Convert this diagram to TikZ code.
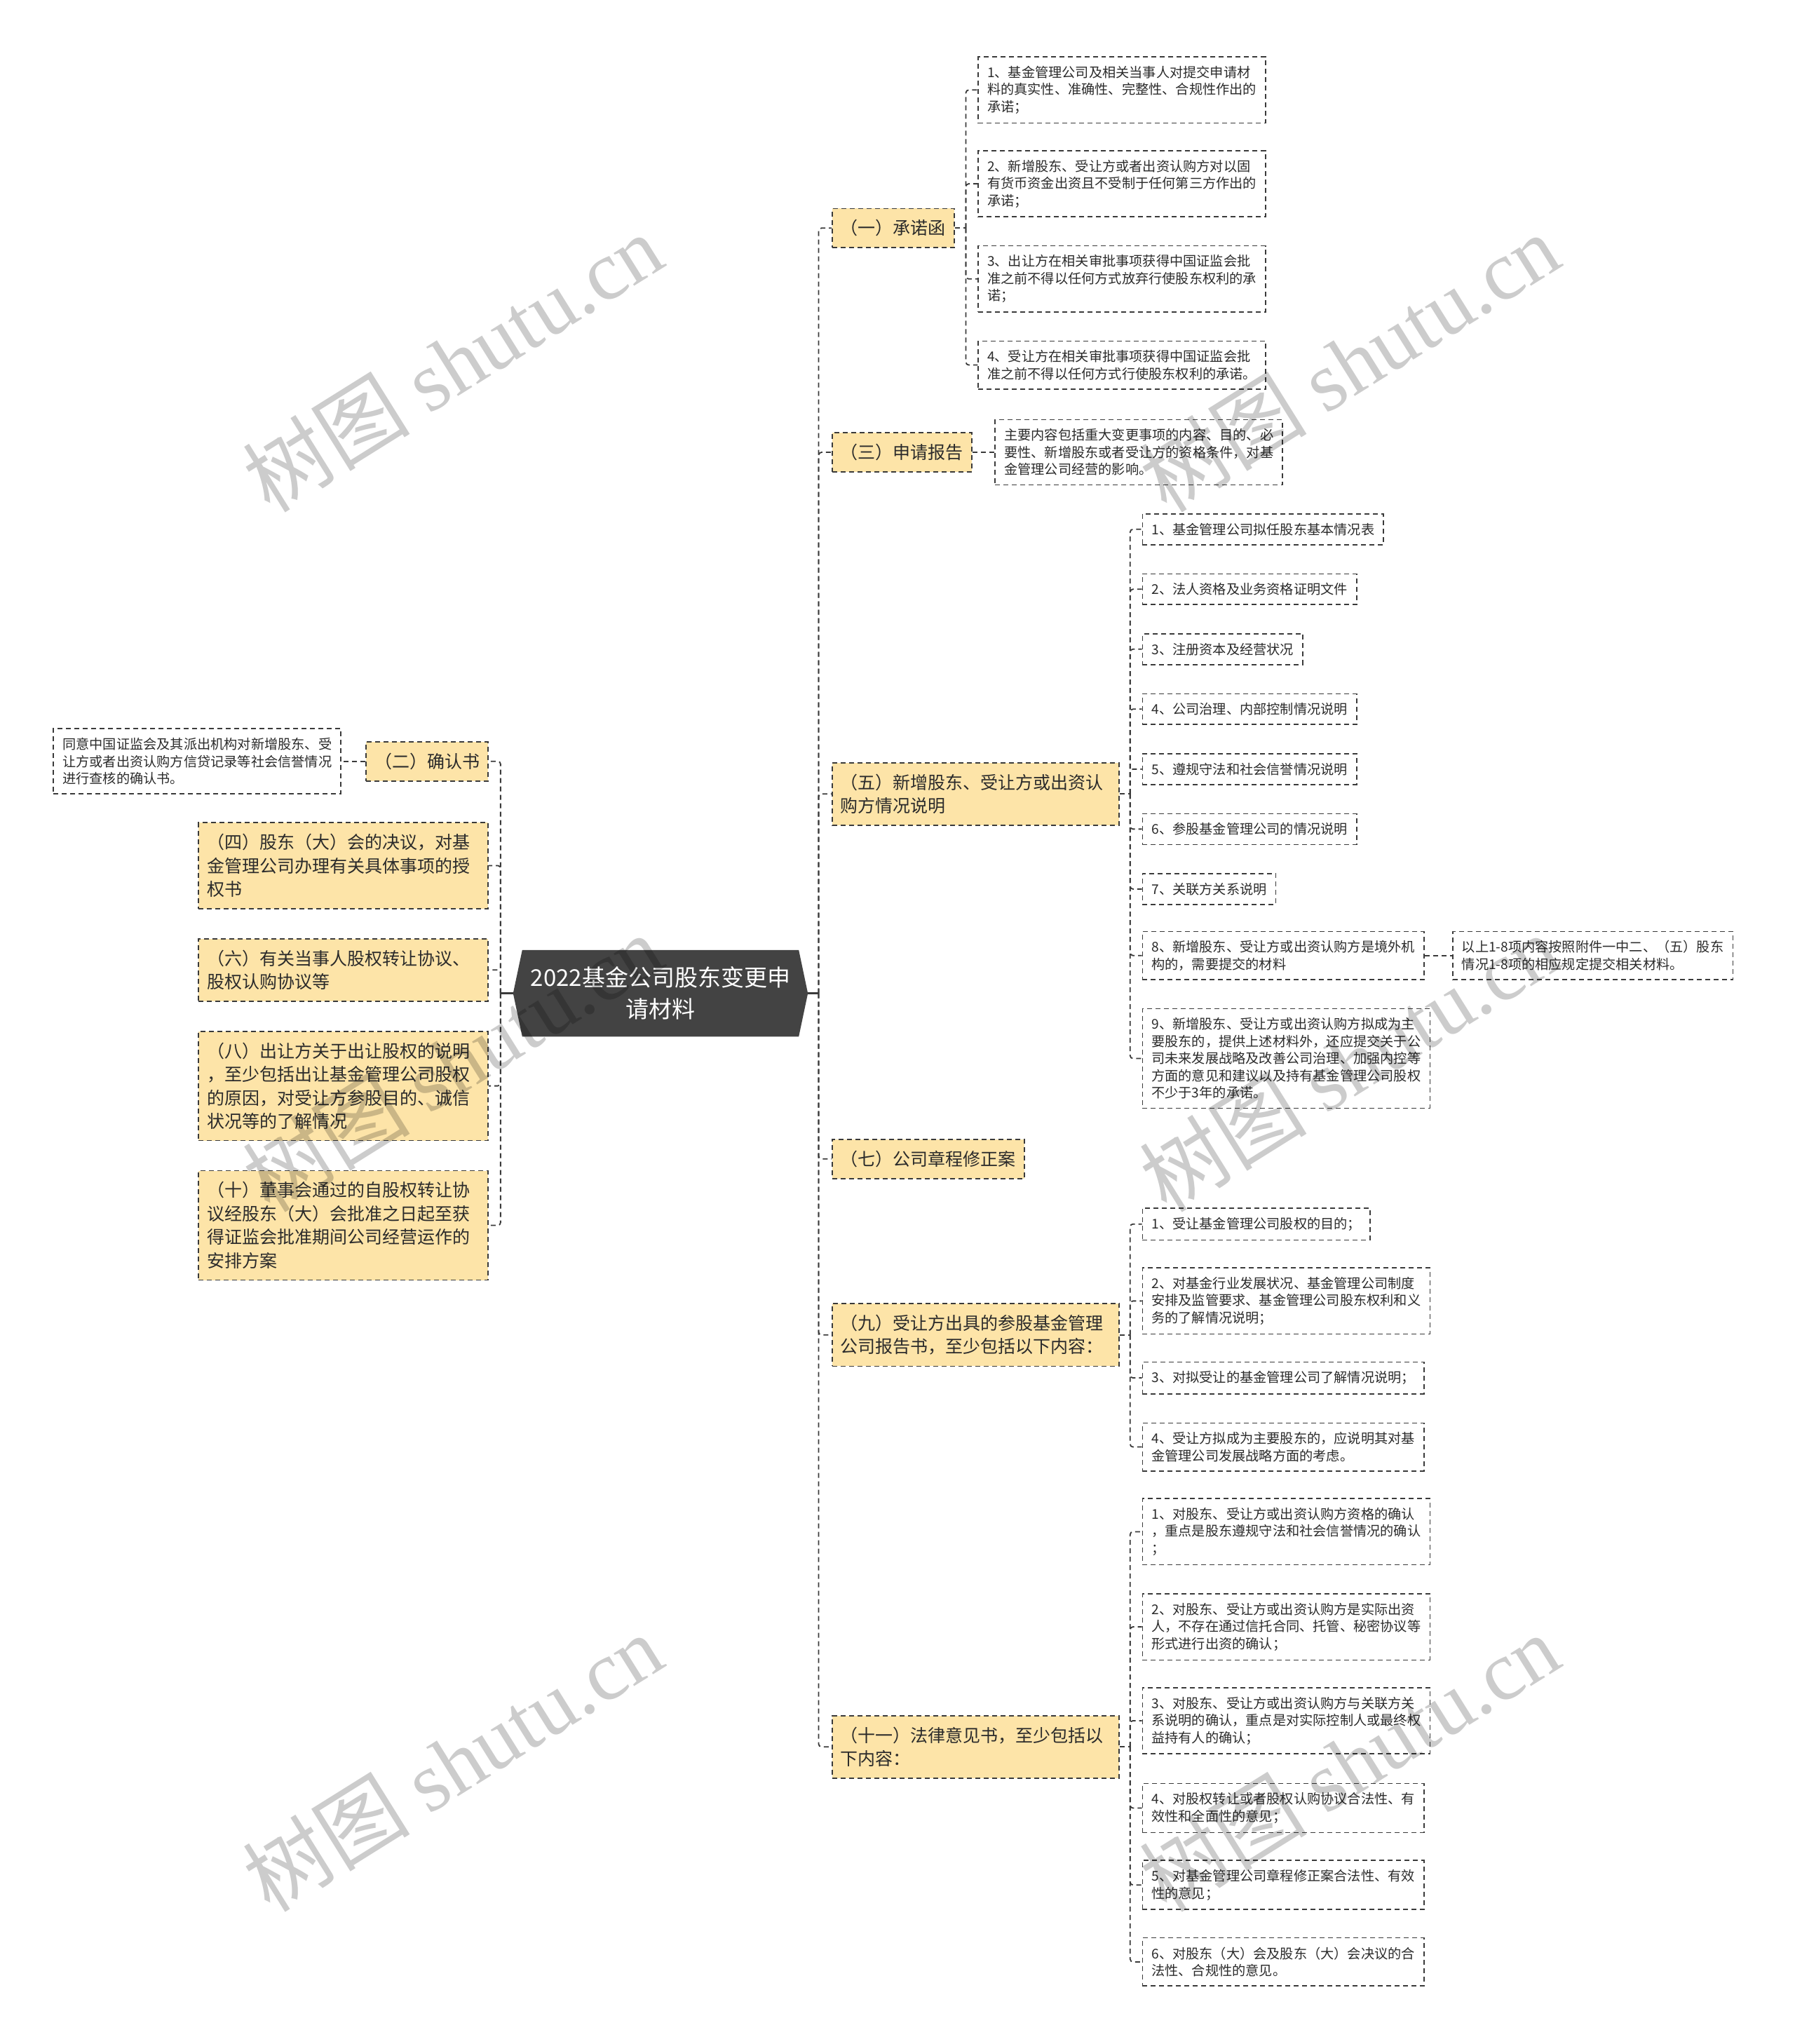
\documentclass[tikz,border=0pt]{standalone}
\usepackage{fontspec}
\setmainfont{Noto Sans CJK SC}
\newfontfamily\wmlatin{Liberation Serif}
\usetikzlibrary{backgrounds}

\definecolor{branchfill}{HTML}{FDE4A8}
\definecolor{linecol}{HTML}{3A3A3A}
\definecolor{centerfill}{HTML}{434343}
\definecolor{txt}{HTML}{2B2B2B}

\tikzset{
  conn/.style={draw=linecol, line width=1.8pt, dash pattern=on 7pt off 5pt, rounded corners=4pt},
  solidconn/.style={draw=linecol, line width=3pt},
  branch/.style={draw=linecol, line width=1.8pt, dash pattern=on 7pt off 5pt, fill=branchfill,
    align=left, font=\fontsize{25}{33.5}\selectfont, text=txt, inner xsep=12pt, inner ysep=16pt},
  widebranch/.style={branch, text width=385pt},
  leftbranch/.style={branch, text width=389pt},
  leaf/.style={draw=linecol, line width=1.6pt, dash pattern=on 7pt off 5pt, fill=white,
    align=left, font=\fontsize{19.2}{24.5}\selectfont, text=txt, inner xsep=13pt, inner ysep=13pt},
  hubtext/.style={align=center, text=white, font=\fontsize{33}{45}\selectfont,
    minimum width=420pt, minimum height=123pt, inner sep=0pt},
  wm/.style={text=black, opacity=0.2, rotate=32, font=\fontsize{120}{120}\selectfont, inner sep=0pt}
}

\begin{document}
\begin{tikzpicture}[x=1.85911pt, y=-1.85911pt]
\useasboundingbox (0,0) rectangle (1377,1568);

% hub
\node[hubtext] (hub) at (506.7,762) {2022基金公司股东变更申\\请材料};
\begin{scope}[on background layer]
  \fill[white] (0,0) rectangle (1377,1568);
  \fill[centerfill] ([xshift=13pt]hub.north west) -- ([xshift=-13pt]hub.north east) -- (hub.east)
    -- ([xshift=-13pt]hub.south east) -- ([xshift=13pt]hub.south west) -- (hub.west) -- cycle;
\end{scope}

% junctions
\coordinate (jR) at (628,762);
\coordinate (jL) at (384,762);
\coordinate (j1) at (741,175);
\coordinate (j5) at (867,609);
\coordinate (j9) at (867,1024);
\coordinate (j11) at (867,1340);

% right branches
\node[branch, anchor=west] (b1) at (638,175) {（一）承诺函};
\node[branch, anchor=west] (b3) at (638,347) {（三）申请报告};
\node[widebranch, anchor=west] (b5) at (638,609) {（五）新增股东、受让方或出资认\\购方情况说明};
\node[branch, anchor=west] (b7) at (638,889) {（七）公司章程修正案};
\node[widebranch, anchor=west] (b9) at (638,1024) {（九）受让方出具的参股基金管理\\公司报告书，至少包括以下内容：};
\node[widebranch, anchor=west] (b11) at (638,1340) {（十一）法律意见书，至少包括以\\下内容：};

% left branches
\node[branch, anchor=east] (b2) at (375,584) {（二）确认书};
\node[leftbranch, anchor=east] (b4) at (375,664) {（四）股东（大）会的决议，对基\\金管理公司办理有关具体事项的授\\权书};
\node[leftbranch, anchor=east] (b6) at (375,744) {（六）有关当事人股权转让协议、\\股权认购协议等};
\node[leftbranch, anchor=east] (b8) at (375,833) {（八）出让方关于出让股权的说明\\，至少包括出让基金管理公司股权\\的原因，对受让方参股目的、诚信\\状况等的了解情况};
\node[leftbranch, anchor=east] (b10) at (375,940) {（十）董事会通过的自股权转让协\\议经股东（大）会批准之日起至获\\得证监会批准期间公司经营运作的\\安排方案};

% leaves of (一)
\node[leaf, anchor=west] (l1a) at (750,69) {1、基金管理公司及相关当事人对提交申请材\\料的真实性、准确性、完整性、合规性作出的\\承诺；};
\node[leaf, anchor=west] (l1b) at (750,141) {2、新增股东、受让方或者出资认购方对以固\\有货币资金出资且不受制于任何第三方作出的\\承诺；};
\node[leaf, anchor=west] (l1c) at (750,214) {3、出让方在相关审批事项获得中国证监会批\\准之前不得以任何方式放弃行使股东权利的承\\诺；};
\node[leaf, anchor=west] (l1d) at (750,280) {4、受让方在相关审批事项获得中国证监会批\\准之前不得以任何方式行使股东权利的承诺。};

% leaf of (三)
\node[leaf, anchor=west] (l3) at (763,347) {主要内容包括重大变更事项的内容、目的、必\\要性、新增股东或者受让方的资格条件，对基\\金管理公司经营的影响。};

% leaf of (二)
\node[leaf, anchor=east] (l2) at (262,584) {同意中国证监会及其派出机构对新增股东、受\\让方或者出资认购方信贷记录等社会信誉情况\\进行查核的确认书。};

% leaves of (五)
\node[leaf, anchor=west] (l5a) at (876,406) {1、基金管理公司拟任股东基本情况表};
\node[leaf, anchor=west] (l5b) at (876,452) {2、法人资格及业务资格证明文件};
\node[leaf, anchor=west] (l5c) at (876,498) {3、注册资本及经营状况};
\node[leaf, anchor=west] (l5d) at (876,544) {4、公司治理、内部控制情况说明};
\node[leaf, anchor=west] (l5e) at (876,590) {5、遵规守法和社会信誉情况说明};
\node[leaf, anchor=west] (l5f) at (876,636) {6、参股基金管理公司的情况说明};
\node[leaf, anchor=west] (l5g) at (876,682) {7、关联方关系说明};
\node[leaf, anchor=west] (l5h) at (876,733) {8、新增股东、受让方或出资认购方是境外机\\构的，需要提交的材料};
\node[leaf, anchor=west] (l5i) at (876,812) {9、新增股东、受让方或出资认购方拟成为主\\要股东的，提供上述材料外，还应提交关于公\\司未来发展战略及改善公司治理、加强内控等\\方面的意见和建议以及持有基金管理公司股权\\不少于3年的承诺。};
\node[leaf, anchor=west] (l5h1) at (1114,733) {以上1-8项内容按照附件一中二、（五）股东\\情况1-8项的相应规定提交相关材料。};

% leaves of (九)
\node[leaf, anchor=west] (l9a) at (876,939) {1、受让基金管理公司股权的目的；};
\node[leaf, anchor=west] (l9b) at (876,998) {2、对基金行业发展状况、基金管理公司制度\\安排及监管要求、基金管理公司股东权利和义\\务的了解情况说明；};
\node[leaf, anchor=west] (l9c) at (876,1057) {3、对拟受让的基金管理公司了解情况说明；};
\node[leaf, anchor=west] (l9d) at (876,1110) {4、受让方拟成为主要股东的，应说明其对基\\金管理公司发展战略方面的考虑。};

% leaves of (十一)
\node[leaf, anchor=west] (l11a) at (876,1175) {1、对股东、受让方或出资认购方资格的确认\\，重点是股东遵规守法和社会信誉情况的确认\\；};
\node[leaf, anchor=west] (l11b) at (876,1248) {2、对股东、受让方或出资认购方是实际出资\\人，不存在通过信托合同、托管、秘密协议等\\形式进行出资的确认；};
\node[leaf, anchor=west] (l11c) at (876,1320) {3、对股东、受让方或出资认购方与关联方关\\系说明的确认，重点是对实际控制人或最终权\\益持有人的确认；};
\node[leaf, anchor=west] (l11d) at (876,1387) {4、对股权转让或者股权认购协议合法性、有\\效性和全面性的意见；};
\node[leaf, anchor=west] (l11e) at (876,1446) {5、对基金管理公司章程修正案合法性、有效\\性的意见；};
\node[leaf, anchor=west] (l11f) at (876,1505) {6、对股东（大）会及股东（大）会决议的合\\法性、合规性的意见。};

% connectors
\draw[solidconn] (hub.east) -- (jR);
\draw[solidconn] (hub.west) -- (jL);
\foreach \c in {b1,b3,b5,b7,b9,b11} \draw[conn] (jR) |- (\c.west);
\foreach \c in {b2,b4,b6,b8,b10} \draw[conn] (jL) |- (\c.east);

\draw[conn] (b1.east) -- (j1);
\foreach \c in {l1a,l1b,l1c,l1d} \draw[conn] (j1) |- (\c.west);
\draw[conn] (b3.east) -- (l3.west);
\draw[conn] (b2.west) -- (l2.east);

\draw[conn] (b5.east) -- (j5);
\foreach \c in {l5a,l5b,l5c,l5d,l5e,l5f,l5g,l5h,l5i} \draw[conn] (j5) |- (\c.west);
\draw[conn] (l5h.east) -- (l5h1.west);

\draw[conn] (b9.east) -- (j9);
\foreach \c in {l9a,l9b,l9c,l9d} \draw[conn] (j9) |- (\c.west);

\draw[conn] (b11.east) -- (j11);
\foreach \c in {l11a,l11b,l11c,l11d,l11e,l11f} \draw[conn] (j11) |- (\c.west);

% watermarks
\node[wm] (wm1) at (347,278) {树图 {\wmlatin shutu.cn}};
\node[wm] (wm2) at (1035,278) {树图 {\wmlatin shutu.cn}};
\node[wm] (wm3) at (347,815) {树图 {\wmlatin shutu.cn}};
\node[wm] (wm4) at (1035,815) {树图 {\wmlatin shutu.cn}};
\node[wm] (wm5) at (347,1352) {树图 {\wmlatin shutu.cn}};
\node[wm] (wm6) at (1035,1352) {树图 {\wmlatin shutu.cn}};
\end{tikzpicture}
\end{document}
